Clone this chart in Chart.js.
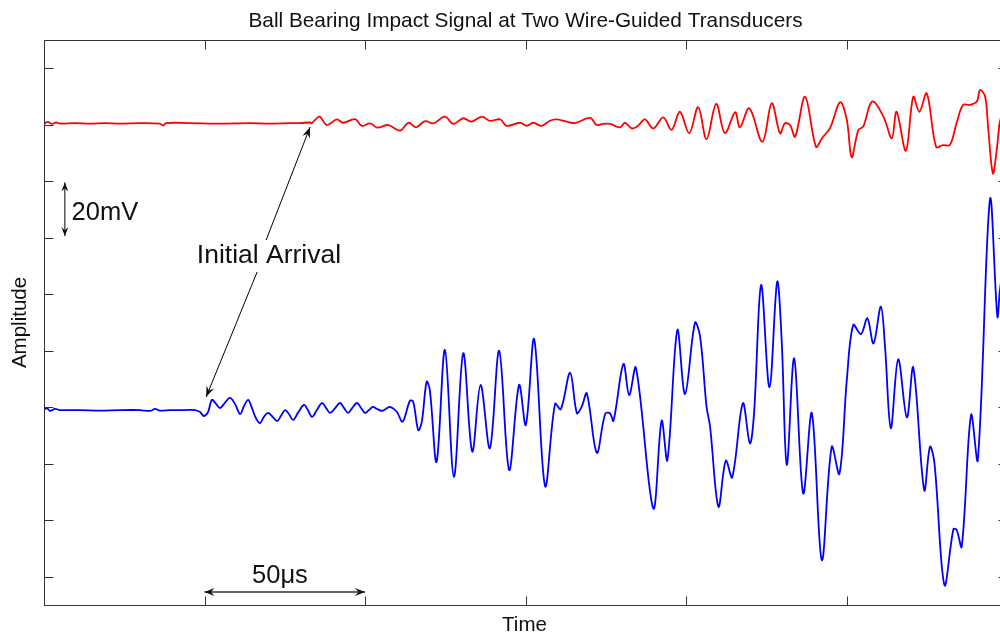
<!DOCTYPE html>
<html><head><meta charset="utf-8">
<script src="https://cdn.jsdelivr.net/npm/chart.js@4/dist/chart.umd.min.js"></script>
<style>html,body{margin:0;padding:0;overflow:hidden;background:#fff}#wrap{width:1010px;height:637px}</style>
</head><body><div id="wrap"><canvas id="c" width="1010" height="637"></canvas></div>
<script>
const chartTitle = 'Ball Bearing Impact Signal at Two Wire-Guided Transducers';
const xLabel = 'Time';
const yLabel = 'Amplitude';
const xTicks = [0, 50, 100, 150, 200, 250, 300];           // μs
const yTicks = [0, 20, 40, 60, 80, 100, 120, 140, 160, 180]; // mV

const redTime = [0,1.2,2.5,3.7,5.0,9.7,14.3,19.0,23.7,29.9,36.1,37.1,38.0,45.5,54.8,64.2,70.4,76.6,79.8,82.9,
 83.4,85.8,88.1,91.2,93.2,96.9,99.0,101.6,103.8,107.3,110.9,113.5,115.9,118.7,121.3,124.9,127.5,130.6,133.2,136.4,
 138.9,142.1,144.1,148.3,150.4,152.4,155.0,157.6,159.7,162.8,165.4,170.1,172.2,174.1,176.3,179.4,181.0,183.1,185.0,187.2,
 189.8,192.9,195.5,198.1,201.0,203.8,206.4,209.4,212.1,215.3,216.8,219.7,223.8,226.7,229.3,230.8,232.4,234.0,237.1,240.5,
 242.4,244.9,248.0,250.1,251.6,253.7,255.2,258.0,261.5,264.1,265.6,268.5,270.8,272.7,275.0,277.9,280.1,282.2,284.3,286.3,
 288.5,290.6,291.6,293.2,294.1,295.6,296.8,297.8,299.1];
const redAmp = [160.4,161.0,160.3,160.8,160.4,160.6,160.4,160.6,160.4,160.6,160.4,159.7,160.6,160.6,160.4,160.6,160.4,160.6,160.6,160.8,
 160.5,162.9,159.9,161.9,160.7,162.0,159.6,160.5,159.0,159.9,157.9,160.7,159.1,161.3,160.5,162.9,160.3,162.3,161.1,162.9,
 161.4,161.9,159.6,160.7,159.6,160.7,159.6,161.4,161.9,161.1,160.6,162.4,159.9,160.3,160.3,159.1,160.7,158.7,159.6,161.9,
 158.7,162.6,158.2,164.6,157.0,166.2,154.9,167.4,157.0,164.4,159.1,165.8,154.0,167.6,157.0,160.5,159.9,155.8,169.9,152.2,
 155.3,158.9,168.0,161.7,148.5,158.2,159.3,168.2,162.9,155.2,164.6,150.8,169.9,164.6,171.1,152.2,152.8,152.8,160.6,167.0,
 167.0,168.2,172.3,169.9,159.3,142.8,151.1,161.1,165.9];

const blueTime = [0,0.9,1.9,3.4,5.0,11.2,17.4,23.7,29.9,33.0,34.6,36.1,39.3,43.9,47.0,48.6,49.8,51.1,52.3,53.6,
 54.8,56.1,57.9,59.5,61.1,62.3,63.6,64.8,66.0,67.3,68.5,69.8,71.0,72.6,73.8,75.1,76.3,77.6,79.1,81.0,
 82.2,83.5,85.0,86.6,87.9,89.1,90.7,92.2,93.5,94.7,96.0,97.5,98.8,100.0,101.2,102.5,103.7,105.3,106.5,107.8,
 109.9,111.7,114.0,115.0,116.6,117.7,119.2,120.2,122.3,124.9,127.7,130.6,133.4,136.0,138.9,141.8,144.9,148.0,150.1,152.7,
 156.1,159.2,161.0,163.9,166.0,167.5,169.1,172.2,174.8,176.3,177.4,180.5,182.3,184.4,189.8,192.4,194.2,197.3,199.7,202.8,
 204.4,206.4,207.5,210.1,212.4,214.4,217.7,219.9,221.2,223.4,226.0,228.4,229.8,231.4,233.7,236.5,239.2,242.3,245.4,247.8,
 250.1,252.1,254.5,256.5,258.4,260.7,262.0,263.8,266.1,268.8,270.8,274.2,276.0,277.4,280.5,283.3,284.3,285.9,288.8,290.9,
 294.7,297.0,297.8,299.1];
const blueAmp = [59.0,59.7,58.7,59.4,59.0,59.0,58.8,59.0,59.0,58.7,59.4,58.8,59.0,59.0,59.0,58.3,56.9,58.3,62.6,61.2,
 59.7,61.2,63.3,61.2,57.6,60.4,62.6,59.7,56.2,54.4,56.6,58.0,56.9,55.1,56.9,59.0,57.6,55.5,58.0,60.8,
 59.0,56.6,59.0,61.5,59.7,58.0,59.7,61.5,59.7,58.0,59.7,61.5,59.7,58.0,59.0,60.1,59.4,58.7,59.4,60.1,
 58.4,54.9,62.3,62.0,51.9,54.9,69.0,66.1,40.7,80.3,35.4,79.1,44.3,67.9,45.5,80.0,37.8,67.9,53.7,84.1,
 32.1,61.2,59.3,72.2,57.9,60.2,64.9,43.9,57.6,57.9,55.2,75.3,64.3,74.0,24.2,55.2,41.3,87.3,64.7,89.9,
 85.0,60.2,53.1,24.8,41.1,35.2,61.4,47.2,57.9,103.3,67.1,104.4,83.8,39.6,77.3,29.5,57.9,5.9,46.0,36.4,
 69.7,89.1,85.9,91.5,82.6,95.6,81.4,52.6,77.0,56.4,74.1,30.7,46.0,40.2,-2.9,16.8,16.6,10.6,57.3,41.3,
 133.6,92.1,101.5,112.1];

// annotation anchors, in data units (μs, mV)
const scaleBar = {t: 6.5, from: 139.6, to: 120.6, text: '20mV', textT: 8.6, textV: 126.3};
const arrival = {text: 'Initial Arrival', textT: 47.6, textV: 111.0,
  upper: [69.2, 119.2, 82.9, 159.2], lower: [66.4, 107.9, 50.5, 63.6]};
const timeBar = {from: 50, to: 100, v: -5.4, text: '50\u03bcs', textT: 73.5, textV: -2.2};

const FONT = '"Liberation Sans", Arial, Helvetica, sans-serif';
const toXY = (ts, vs) => ts.map((t, i) => ({x: t, y: vs[i]}));

function head(ctx, x1, y1, x2, y2, len, w) {
  const a = Math.atan2(y2 - y1, x2 - x1);
  ctx.save(); ctx.translate(x2, y2); ctx.rotate(a);
  ctx.beginPath(); ctx.moveTo(0, 0); ctx.lineTo(-len, -w / 2); ctx.lineTo(-len * 0.65, 0); ctx.lineTo(-len, w / 2);
  ctx.closePath(); ctx.fill(); ctx.restore();
}

const decor = {
  id: 'decor',
  afterDatasetsDraw(chart) {
    const ctx = chart.ctx, a = chart.chartArea, xs = chart.scales.x, ys = chart.scales.y;
    const L = Math.round(a.left) + 0.5, R = Math.round(a.right) + 0.5, T = Math.round(a.top) + 0.5, B = Math.round(a.bottom) + 0.5;
    ctx.save();
    ctx.strokeStyle = '#333'; ctx.lineWidth = 1;
    ctx.beginPath(); ctx.rect(L, T, R - L, B - T); ctx.stroke();
    const tl = 9;
    ctx.beginPath();
    xTicks.forEach(v => { const x = Math.round(xs.getPixelForValue(v)) + 0.5;
      ctx.moveTo(x, B); ctx.lineTo(x, B - tl); ctx.moveTo(x, T); ctx.lineTo(x, T + tl); });
    yTicks.forEach(v => { const y = Math.round(ys.getPixelForValue(v)) + 0.5;
      ctx.moveTo(L, y); ctx.lineTo(L + tl, y); ctx.moveTo(R, y); ctx.lineTo(R - tl, y); });
    ctx.stroke();

    ctx.fillStyle = '#111';
    ctx.font = '20.8px ' + FONT; ctx.textAlign = 'center'; ctx.textBaseline = 'alphabetic';
    ctx.fillText(chartTitle, (a.left + a.right) / 2, 27);
    ctx.font = '20.5px ' + FONT;
    ctx.fillText(xLabel, (a.left + a.right) / 2 - 1, 631);
    ctx.save(); ctx.translate(26, (a.top + a.bottom) / 2); ctx.rotate(-Math.PI / 2);
    ctx.fillText(yLabel, 0, 0); ctx.restore();

    // annotations
    ctx.strokeStyle = '#000'; ctx.fillStyle = '#111'; ctx.lineWidth = 1;
    const P = (t, v) => [xs.getPixelForValue(t), ys.getPixelForValue(v)];
    // 20 mV bar
    let [x1, y1] = P(scaleBar.t, scaleBar.from), [x2, y2] = P(scaleBar.t, scaleBar.to);
    ctx.beginPath(); ctx.moveTo(x1, y1); ctx.lineTo(x2, y2); ctx.stroke();
    head(ctx, x2, y2, x1, y1, 9, 7); head(ctx, x1, y1, x2, y2, 9, 7);
    ctx.font = '25.5px ' + FONT; ctx.textAlign = 'left';
    let [tx, ty] = P(scaleBar.textT, scaleBar.textV); ctx.fillText(scaleBar.text, tx, ty);
    // initial arrival
    [tx, ty] = P(arrival.textT, arrival.textV);
    ctx.font = '26.5px ' + FONT; ctx.fillText(arrival.text, tx, ty);
    [arrival.upper, arrival.lower].forEach(s => {
      const [ax, ay] = P(s[0], s[1]), [bx, by] = P(s[2], s[3]);
      ctx.beginPath(); ctx.moveTo(ax, ay); ctx.lineTo(bx, by); ctx.stroke();
      head(ctx, ax, ay, bx, by, 11, 8);
    });
    // 50 μs bar
    [x1, y1] = P(timeBar.from, timeBar.v); [x2, y2] = P(timeBar.to, timeBar.v);
    ctx.strokeStyle = '#333'; ctx.lineWidth = 1.5;
    ctx.beginPath(); ctx.moveTo(x1, y1); ctx.lineTo(x2, y2); ctx.stroke();
    head(ctx, x2, y2, x1, y1, 10, 8); head(ctx, x1, y1, x2, y2, 10, 8);
    ctx.font = '25.5px ' + FONT; ctx.textAlign = 'center';
    [tx, ty] = P(timeBar.textT, timeBar.textV); ctx.fillText(timeBar.text, tx, ty);
    ctx.restore();
  }
};

new Chart(document.getElementById('c'), {
  type: 'line',
  data: {
    datasets: [
      {label: 'Transducer 1', data: toXY(redTime, redAmp), borderColor: '#ff0000', borderWidth: 1.8,
       pointRadius: 0, tension: 0.35, fill: false},
      {label: 'Transducer 2', data: toXY(blueTime, blueAmp), borderColor: '#0000ff', borderWidth: 1.8,
       pointRadius: 0, tension: 0.35, fill: false}
    ]
  },
  options: {
    responsive: false, animation: false, events: [], devicePixelRatio: 1,
    layout: {padding: {left: 44, top: 40, right: 3, bottom: 32}},
    plugins: {legend: {display: false}, title: {display: false}, tooltip: {enabled: false}},
    scales: {
      x: {type: 'linear', min: 0, max: 300, display: false},
      y: {type: 'linear', min: -10, max: 190, display: false}
    }
  },
  plugins: [decor]
});
</script></body></html>
